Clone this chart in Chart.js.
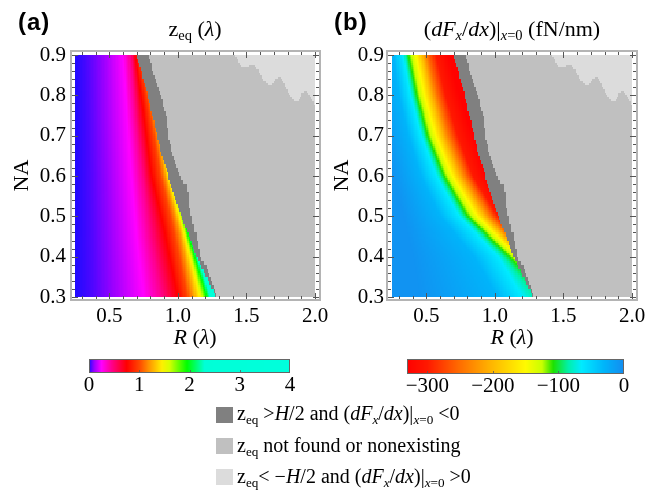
<!DOCTYPE html>
<html>
<head>
<meta charset="utf-8">
<script src="https://cdn.jsdelivr.net/npm/chart.js@4.4.0/dist/chart.umd.min.js"></script>
<style>
  body { margin: 0; background: #fff; }
  #wrap { position: relative; width: 668px; height: 495px; overflow: hidden;
          font-family: "Liberation Serif", "Times New Roman", serif; color: #000; }
  #wrap canvas { position: absolute; left: 0; top: 0; }
  .t { position: absolute; white-space: nowrap; line-height: 1; font-size: 20px; }
  .c { transform: translateX(-50%); }
  .sb { font-size: 0.66em; position: relative; top: 0.3em; }
  .it { font-style: italic; }
  .lab { font-family: "Liberation Sans", Arial, sans-serif; font-weight: bold; font-size: 24px; letter-spacing: 1px; }
  .sw { position: absolute; width: 17px; height: 16px; }
</style>
</head>
<body>
<div id="wrap">
  <canvas id="panelA" width="668" height="495"></canvas>
  <canvas id="panelB" width="668" height="495"></canvas>
  <canvas id="barA" width="668" height="495"></canvas>
  <canvas id="barB" width="668" height="495"></canvas>

  <div class="t lab" style="left:18px;top:10px">(a)</div>
  <div class="t lab" style="left:334px;top:10px">(b)</div>

  <div class="t c" style="left:195px;top:18px;font-size:22px">z<span class="sb">eq</span> (<span class="it">λ</span>)</div>
  <div class="t c" style="left:512px;top:18px;font-size:22px">(<span class="it">dF<span class="sb">x</span></span>/<span class="it">dx</span>)|<span class="sb"><span class="it">x</span>=0</span> (fN/nm)</div>

  <div class="t c" style="left:195px;top:326px;font-size:22px"><span class="it">R</span> (<span class="it">λ</span>)</div>
  <div class="t c" style="left:512px;top:326px;font-size:22px"><span class="it">R</span> (<span class="it">λ</span>)</div>

  <div class="sw" style="left:216px;top:407px;background:#808080"></div>
  <div class="sw" style="left:216px;top:438px;background:#c0c0c0"></div>
  <div class="sw" style="left:216px;top:469px;background:#dcdcdc"></div>
  <div class="t" style="left:237px;top:403px">z<span class="sb">eq</span> &gt;<span class="it">H</span>/2 and (<span class="it">dF<span class="sb">x</span></span>/<span class="it">dx</span>)|<span class="sb"><span class="it">x</span>=0</span> &lt;0</div>
  <div class="t" style="left:237px;top:435px">z<span class="sb">eq</span> not found or nonexisting</div>
  <div class="t" style="left:237px;top:466px">z<span class="sb">eq</span>&lt; −<span class="it">H</span>/2 and (<span class="it">dF<span class="sb">x</span></span>/<span class="it">dx</span>)|<span class="sb"><span class="it">x</span>=0</span> &gt;0</div>
</div>

<script>
const FONT = "'Liberation Serif', 'Times New Roman', serif";

// ---- axes ----
const domainR = [0.25, 2.0];          // particle radius R (λ)
const domainNA = [0.3, 0.9];          // numerical aperture
const xTickVals = [0.5, 1.0, 1.5, 2.0];
const yTickVals = [0.3, 0.4, 0.5, 0.6, 0.7, 0.8, 0.9];
const cbTicksA = [0, 1, 2, 3, 4];
const cbTicksB = [-300, -200, -100, 0];
const cbRangeA = [0, 4];
const cbRangeB = [-331, 0];

// ---- region boundaries (shared by both maps) ----
// right edge of the region where z_eq exists inside the slab
const colorEdgeNA = [0.30, 0.35, 0.40, 0.45, 0.50, 0.55, 0.60, 0.65, 0.70, 0.75, 0.80, 0.85, 0.90];
const colorEdgeR  = [1.28, 1.21, 1.14, 1.085, 1.025, 0.97, 0.93, 0.885, 0.85, 0.815, 0.78, 0.74, 0.70];
// right edge of the z_eq > H/2 band
const darkEdgeNA = [0.30, 0.35, 0.375, 0.40, 0.45, 0.50, 0.55, 0.575, 0.59, 0.60, 0.65, 0.70, 0.75, 0.80, 0.85, 0.90];
const darkEdgeR  = [1.29, 1.235, 1.21, 1.165, 1.14, 1.09, 1.08, 1.07, 1.02, 1.01, 0.965, 0.93, 0.915, 0.875, 0.825, 0.79];
// lower edge of the z_eq < -H/2 patch (top right)
const lightR  = [1.42, 1.46, 1.51, 1.55, 1.585, 1.62, 1.66, 1.69, 1.72, 1.745, 1.78, 1.82, 1.85, 1.88, 1.91, 1.94, 1.97, 2.00];
const lightNA = [0.90, 0.871, 0.871, 0.878, 0.863, 0.838, 0.826, 0.826, 0.841, 0.846, 0.826, 0.794, 0.787, 0.787, 0.806, 0.809, 0.794, 0.772];

// ---- (a) z_eq iso-lines: R position of each level along NA rows ----
const zRowsNA = [0.30, 0.45, 0.60, 0.75, 0.90];
const zLevels = [0, 0.04, 0.1, 0.25, 0.45, 0.75, 1.0, 1.2, 1.45, 1.95, 2.4, 3.0];
const zIsoR = [
  [0.25, 0.25, 0.25, 0.25, 0.25],
  [0.38, 0.37, 0.36, 0.35, 0.34],
  [0.52, 0.50, 0.48, 0.46, 0.45],
  [0.75, 0.70, 0.66, 0.63, 0.60],
  [0.88, 0.80, 0.74, 0.69, 0.655],
  [1.00, 0.91, 0.81, 0.75, 0.69],
  [1.07, 0.98, 0.875, 0.80, 0.72],
  [1.11, 1.02, 0.905, 0.83, 0.73],
  [1.16, 1.05, 0.93, 0.85, 0.74],
  [1.21, 1.08, 0.955, 0.87, 0.75],
  [1.245, 1.10, 0.975, 0.89, 0.76],
  [1.28, 1.12, 1.00, 0.91, 0.78]
];

// ---- (b) stiffness (dFx/dx)|x=0 iso-lines, fN/nm ----
const gRowsNA = [0.30, 0.40, 0.50, 0.60, 0.70, 0.80, 0.90];
const gLevels = [-5, -30, -65, -108, -150, -200, -250, -300, -330];
const gIsoR = [
  [0.45, 0.40, 0.33, 0.26, 0.20, 0.14, 0.10],
  [1.02, 0.85, 0.60, 0.46, 0.37, 0.30, 0.26],
  [1.20, 1.03, 0.74, 0.575, 0.465, 0.385, 0.33],
  [1.40, 1.11, 0.80, 0.63, 0.51, 0.43, 0.37],
  [1.50, 1.17, 0.87, 0.69, 0.57, 0.485, 0.425],
  [1.54, 1.21, 0.92, 0.74, 0.62, 0.535, 0.47],
  [1.58, 1.25, 0.97, 0.79, 0.67, 0.58, 0.51],
  [1.62, 1.28, 1.02, 0.84, 0.73, 0.64, 0.57],
  [1.70, 1.35, 1.10, 0.94, 0.84, 0.74, 0.66]
];

// ---- colour maps ----
const zStops  = [0, 0.1, 0.25, 0.45, 0.75, 1.0, 1.2, 1.45, 1.6, 1.95, 2.3, 4.0];
const zColors = [[30,10,255],[150,0,255],[255,0,255],[255,0,140],[255,0,0],[255,70,0],[255,150,0],[255,240,0],[215,255,0],[0,255,0],[0,255,215],[0,255,220]];
const gStops  = [-331, -300, -250, -200, -150, -125, -108, -85, -65, -30, 0];
const gColors = [[255,0,0],[255,25,0],[255,110,0],[255,185,0],[255,250,0],[200,255,0],[30,225,0],[0,240,170],[0,235,255],[0,180,250],[20,140,240]];
const GREY_DARK = '#808080', GREY_MID = '#c0c0c0', GREY_LIGHT = '#dcdcdc';

function interp(xs, ys, x) {
  if (x <= xs[0]) return ys[0];
  for (let k = 1; k < xs.length; k++) {
    if (x <= xs[k]) return ys[k-1] + (x - xs[k-1]) / (xs[k] - xs[k-1]) * (ys[k] - ys[k-1]);
  }
  return ys[ys.length - 1];
}
function ramp(stops, cols, v) {
  if (v <= stops[0]) return 'rgb(' + cols[0].join(',') + ')';
  for (let k = 1; k < stops.length; k++) {
    if (v <= stops[k]) {
      const t = (v - stops[k-1]) / (stops[k] - stops[k-1]);
      const a = cols[k-1], b = cols[k];
      return 'rgb(' + Math.round(a[0] + t*(b[0]-a[0])) + ',' + Math.round(a[1] + t*(b[1]-a[1])) + ',' + Math.round(a[2] + t*(b[2]-a[2])) + ')';
    }
  }
  return 'rgb(' + cols[cols.length-1].join(',') + ')';
}
const colorA = v => ramp(zStops, zColors, v);
const colorB = v => ramp(gStops, gColors, v);

// value between the iso-lines bracketing (R, NA)
function isoValue(rows, levels, iso, R, NA) {
  let j = 0;
  while (j < rows.length - 2 && NA > rows[j+1]) j++;
  const t = Math.min(1, Math.max(0, (NA - rows[j]) / (rows[j+1] - rows[j])));
  let prev = null;
  for (let k = 0; k < levels.length; k++) {
    const pos = iso[k][j] + t * (iso[k][j+1] - iso[k][j]);
    if (R < pos) {
      if (k === 0) return levels[0];
      return levels[k-1] + (R - prev) / (pos - prev) * (levels[k] - levels[k-1]);
    }
    prev = pos;
  }
  return levels[levels.length - 1];
}

const heatPlugin = {
  id: 'heat',
  beforeDatasetsDraw(chart, args, opts) {
    const ctx = chart.ctx, xs = chart.scales.x, ys = chart.scales.y;
    const dR = 0.01, dN = 0.005;
    const nR = Math.round((domainR[1] - domainR[0]) / dR);
    const nN = Math.round((domainNA[1] - domainNA[0]) / dN);
    ctx.save();
    for (let i = 0; i < nR; i++) {
      const r0 = domainR[0] + i * dR, rc = r0 + dR / 2;
      const x0 = Math.round(xs.getPixelForValue(r0)), x1 = Math.round(xs.getPixelForValue(r0 + dR));
      const nLight = rc < lightR[0] ? Infinity : interp(lightR, lightNA, rc);
      for (let j = 0; j < nN; j++) {
        const n0 = domainNA[0] + j * dN, nc = n0 + dN / 2;
        const nq = Math.floor(nc / 0.01) * 0.01 + 0.005;
        const y0 = Math.round(ys.getPixelForValue(n0)), y1 = Math.round(ys.getPixelForValue(n0 + dN));
        let col;
        if (rc < interp(colorEdgeNA, colorEdgeR, nq)) {
          col = opts.field === 'a'
            ? colorA(isoValue(zRowsNA, zLevels, zIsoR, rc, nc))
            : colorB(isoValue(gRowsNA, gLevels, gIsoR, rc, nc));
        } else if (rc < interp(darkEdgeNA, darkEdgeR, nq)) col = GREY_DARK;
        else if (nc > nLight) col = GREY_LIGHT;
        else col = GREY_MID;
        ctx.fillStyle = col;
        ctx.fillRect(x0, y1, x1 - x0, y0 - y1);
      }
    }
    ctx.restore();
  }
};

// frame with inward ticks on all four sides
const framePlugin = {
  id: 'frame',
  afterDatasetsDraw(chart) {
    const ctx = chart.ctx, a = chart.chartArea, xs = chart.scales.x, ys = chart.scales.y;
    ctx.save();
    ctx.strokeStyle = '#555';
    ctx.lineWidth = 1;
    ctx.beginPath();
    for (let k = 3; k <= 20; k++) {
      const p = Math.round(xs.getPixelForValue(k / 10)) + 0.5;
      const L = k % 5 === 0 ? 7 : 4;
      ctx.moveTo(p, a.bottom); ctx.lineTo(p, a.bottom - L);
      ctx.moveTo(p, a.top); ctx.lineTo(p, a.top + L);
    }
    for (let k = 15; k <= 45; k++) {
      const p = Math.round(ys.getPixelForValue(k / 50)) + 0.5;
      const L = k % 5 === 0 ? 7 : 4;
      ctx.moveTo(a.left, p); ctx.lineTo(a.left + L, p);
      ctx.moveTo(a.right, p); ctx.lineTo(a.right - L, p);
    }
    ctx.stroke();
    ctx.strokeStyle = '#b4b4b4';
    ctx.lineWidth = 2;
    ctx.strokeRect(a.left, a.top, a.right - a.left, a.bottom - a.top);
    ctx.restore();
  }
};

const cbarPlugin = {
  id: 'cbar',
  beforeDatasetsDraw(chart, args, opts) {
    const ctx = chart.ctx, a = chart.chartArea, xs = chart.scales.x;
    const fn = opts.field === 'a' ? colorA : colorB;
    const ticks = opts.field === 'a' ? cbTicksA : cbTicksB;
    ctx.save();
    for (let px = Math.floor(a.left); px < Math.ceil(a.right); px++) {
      ctx.fillStyle = fn(xs.getValueForPixel(px + 0.5));
      ctx.fillRect(px, a.top, 1, a.bottom - a.top);
    }
    ctx.strokeStyle = 'rgba(90,90,90,0.8)';
    ctx.lineWidth = 1;
    ctx.beginPath();
    for (const t of ticks) {
      const p = Math.round(xs.getPixelForValue(t)) + 0.5;
      if (p > a.left + 2 && p < a.right - 2) { ctx.moveTo(p, a.bottom); ctx.lineTo(p, a.bottom - 3); }
    }
    ctx.stroke();
    ctx.strokeStyle = '#666';
    ctx.strokeRect(a.left + 0.5, a.top + 0.5, a.right - a.left - 1, a.bottom - a.top - 1);
    ctx.restore();
  }
};

const fmtMinus = v => String(v).replace('-', '\u2212');

function makePanel(id, field, frame, dataBox, padLeft) {
  const [fl, ft, fr, fb] = frame;
  const [dl, dt, dr, db] = dataBox;
  const pxR = (dr - dl) / (domainR[1] - domainR[0]);
  const pxN = (db - dt) / (domainNA[1] - domainNA[0]);
  new Chart(document.getElementById(id), {
    type: 'scatter',
    data: { datasets: [] },
    options: {
      responsive: false, animation: false, events: [],
      layout: { padding: { left: padLeft, top: ft, right: 668 - fr, bottom: 495 - fb - 40 } },
      plugins: { legend: { display: false }, tooltip: { enabled: false }, heat: { field } },
      scales: {
        x: {
          type: 'linear',
          min: domainR[0] - (dl - fl) / pxR, max: domainR[1] + (fr - dr) / pxR,
          afterFit: s => { s.height = 40; },
          afterBuildTicks: s => { s.ticks = xTickVals.map(v => ({ value: v })); },
          ticks: { autoSkip: false, maxRotation: 0, padding: 4, color: '#000',
                   font: { family: FONT, size: 21 }, callback: v => Number(v).toFixed(1) },
          grid: { display: false, drawTicks: false }, border: { display: false }
        },
        y: {
          type: 'linear',
          min: domainNA[0] - (fb - db) / pxN, max: domainNA[1] + (dt - ft) / pxN,
          afterFit: s => { s.width = fl - padLeft; },
          afterBuildTicks: s => { s.ticks = yTickVals.map(v => ({ value: v })); },
          ticks: { autoSkip: false, padding: field === 'a' ? 5 : 3, color: '#000',
                   font: { family: FONT, size: 21 }, callback: v => Number(v).toFixed(1) },
          title: { display: true, text: 'NA', color: '#000', font: { family: FONT, size: 22 }, padding: { top: 9, bottom: 0 } },
          grid: { display: false, drawTicks: false }, border: { display: false }
        }
      }
    },
    plugins: [heatPlugin, framePlugin]
  });
}

function makeBar(id, field, box, range, ticks) {
  const [l, t, r, b] = box;
  new Chart(document.getElementById(id), {
    type: 'scatter',
    data: { datasets: [] },
    options: {
      responsive: false, animation: false, events: [],
      layout: { padding: { left: l, top: t, right: 668 - r, bottom: 495 - b - 40 } },
      plugins: { legend: { display: false }, tooltip: { enabled: false }, cbar: { field } },
      scales: {
        x: {
          type: 'linear', min: range[0], max: range[1],
          afterFit: s => { s.height = 40; },
          afterBuildTicks: s => { s.ticks = ticks.map(v => ({ value: v })); },
          ticks: { autoSkip: false, maxRotation: 0, padding: 0, color: '#000',
                   font: { family: FONT, size: 21 }, callback: fmtMinus },
          grid: { display: false, drawTicks: false }, border: { display: false }
        },
        y: { display: false, min: 0, max: 1 }
      }
    },
    plugins: [cbarPlugin]
  });
}

function drawAll() {
  makePanel('panelA', 'a', [71, 51, 320, 300], [75, 55, 315, 297], 0);
  makePanel('panelB', 'b', [387, 51, 637, 300], [392, 55, 632, 297], 320);
  makeBar('barA', 'a', [89, 359, 290, 373], cbRangeA, cbTicksA);
  makeBar('barB', 'b', [407, 359, 624, 374], cbRangeB, cbTicksB);
}

// make sure the serif face is ready before the canvases use it
Promise.all([
  document.fonts.load("21px 'Liberation Serif'"),
  document.fonts.load("italic 21px 'Liberation Serif'")
]).then(drawAll, drawAll);
</script>
</body>
</html>
